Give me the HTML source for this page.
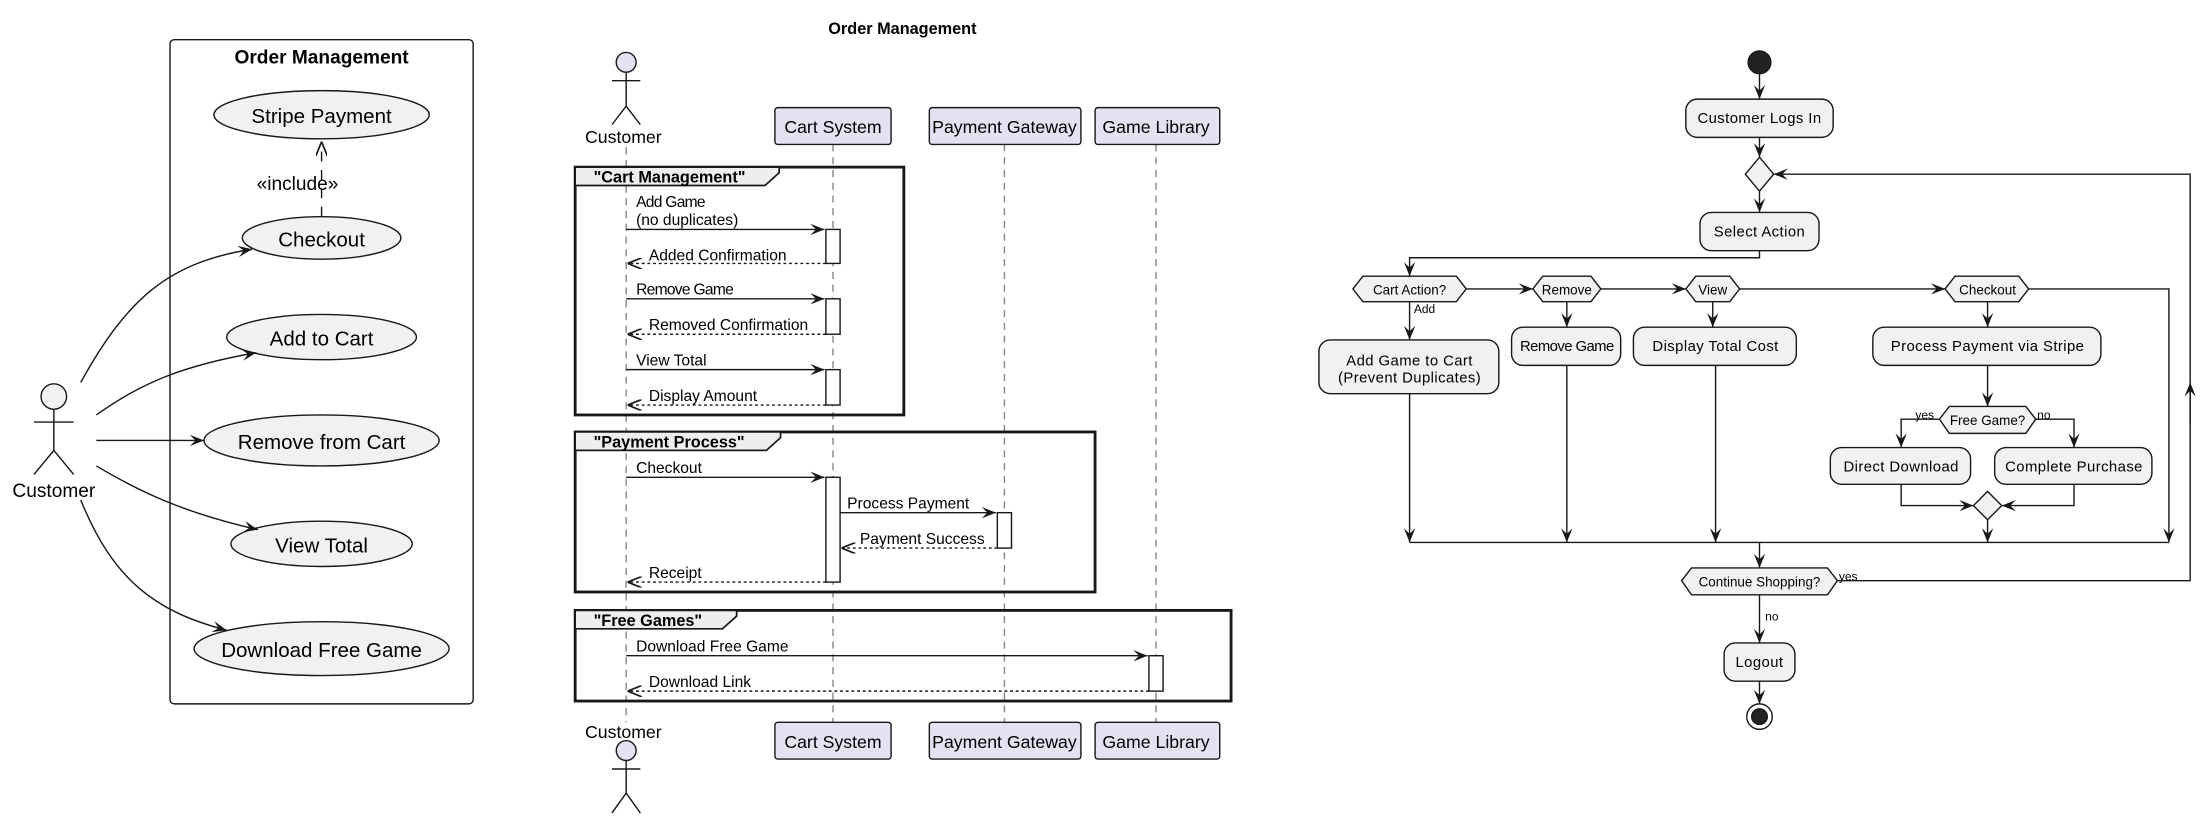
<!DOCTYPE html>
<html><head><meta charset="utf-8"><style>
html,body{margin:0;padding:0;background:#fff;}
svg{display:block;}
text{font-family:"Liberation Sans",sans-serif;fill:#000;}
</style></head><body>
<svg width="2210" height="820" viewBox="0 0 1560 579" preserveAspectRatio="none" xmlns="http://www.w3.org/2000/svg">
<defs>
<marker id="a" viewBox="0 0 10 8" refX="10" refY="4" markerWidth="10" markerHeight="8" markerUnits="userSpaceOnUse" orient="auto"><path d="M0,0 L10,4 L0,8 L4,4 z" fill="#181818"/></marker>
<marker id="o" viewBox="0 0 10 8" refX="10" refY="4" markerWidth="10" markerHeight="8" markerUnits="userSpaceOnUse" orient="auto"><path d="M0,0 L10,4 L0,8" fill="none" stroke="#181818" stroke-width="1.2"/></marker>
</defs>
<g stroke="#181818" stroke-width="1" fill="none">
<!-- USE CASE -->
<rect x="120" y="28" width="214" height="469" rx="3"/>
<g fill="#f1f1f1">
<ellipse cx="227" cy="81" rx="76" ry="17"/>
<ellipse cx="227" cy="168" rx="56" ry="15"/>
<ellipse cx="227" cy="238" rx="67" ry="16"/>
<ellipse cx="227" cy="311" rx="83" ry="18"/>
<ellipse cx="227" cy="384" rx="64" ry="16"/>
<ellipse cx="227" cy="458" rx="90" ry="19"/>
<circle cx="38" cy="280" r="9"/>
</g>
<line x1="227" y1="153" x2="227" y2="100" stroke-dasharray="7,6" marker-end="url(#o)"/>
<path d="M38 289 V318 M24 298 H52 M24 335 L38 318 L52 335"/>
<path d="M57 270 C90 210,120 185,178 176" marker-end="url(#a)"/>
<path d="M68 293 C100 270,130 258,181 249" marker-end="url(#a)"/>
<path d="M68 311 H144" marker-end="url(#a)"/>
<path d="M68 329 C100 348,130 362,182 374" marker-end="url(#a)"/>
<path d="M57 353 C80 410,110 432,160 445" marker-end="url(#a)"/>
</g>
<g font-size="14.5" text-anchor="middle">
<text x="227" y="45" font-weight="bold" font-size="13.5">Order Management</text>
<text x="227" y="87">Stripe Payment</text>
<text x="227" y="174">Checkout</text>
<text x="227" y="244">Add to Cart</text>
<text x="227" y="317">Remove from Cart</text>
<text x="227" y="390">View Total</text>
<text x="227" y="464">Download Free Game</text>
<text x="210" y="134" font-size="13.5">«include»</text>
<text x="38" y="351" font-size="13.5">Customer</text>
</g>

<!-- SEQUENCE -->
<text x="637" y="24" font-size="11.5" font-weight="bold" text-anchor="middle">Order Management</text>
<g stroke="#181818" stroke-width="1" fill="none">
<g stroke="#888" stroke-dasharray="5,4"><line x1="442" y1="104" x2="442" y2="510"/><line x1="588" y1="102" x2="588" y2="510"/><line x1="709" y1="102" x2="709" y2="510"/><line x1="816" y1="102" x2="816" y2="510"/></g>
<circle cx="442" cy="44" r="7" fill="#e2e2f0"/>
<path d="M442 51 V75 M432 57 H452 M432 88 L442 75 L452 88"/>
<circle cx="442" cy="530" r="7" fill="#e2e2f0"/>
<path d="M442 537 V560 M432 543 H452 M432 574 L442 560 L452 574"/>
<g fill="#e2e2f0">
<rect x="547" y="76" width="82" height="26" rx="2"/><rect x="656" y="76" width="107" height="26" rx="2"/><rect x="773" y="76" width="88" height="26" rx="2"/>
<rect x="547" y="510" width="82" height="26" rx="2"/><rect x="656" y="510" width="107" height="26" rx="2"/><rect x="773" y="510" width="88" height="26" rx="2"/>
</g>
<g stroke-width="2">
<rect x="406" y="118" width="232" height="175"/><rect x="406" y="305" width="367" height="113"/><rect x="406" y="431" width="463" height="64"/>
</g>
<g fill="#eee" stroke-width="1.2">
<path d="M406 118 H550 V122 L540 131 H406 Z"/>
<path d="M406 305 H551 V309 L541 318 H406 Z"/>
<path d="M406 431 H520 V435 L510 444 H406 Z"/>
</g>
<g fill="#fff">
<rect x="583" y="162" width="10" height="24"/><rect x="583" y="211" width="10" height="25"/><rect x="583" y="261" width="10" height="25"/>
<rect x="583" y="337" width="10" height="74"/><rect x="704" y="362" width="10" height="25"/><rect x="811" y="463" width="10" height="25"/>
</g>
<g marker-end="url(#a)">
<line x1="442" y1="162" x2="582" y2="162"/><line x1="442" y1="211" x2="582" y2="211"/><line x1="442" y1="261" x2="582" y2="261"/>
<line x1="442" y1="337" x2="582" y2="337"/><line x1="593" y1="362" x2="703" y2="362"/><line x1="442" y1="463" x2="810" y2="463"/>
</g>
<g stroke-dasharray="2,2" marker-end="url(#o)">
<line x1="583" y1="186" x2="443" y2="186"/><line x1="583" y1="236" x2="443" y2="236"/><line x1="583" y1="286" x2="443" y2="286"/>
<line x1="704" y1="387" x2="594" y2="387"/><line x1="583" y1="411" x2="443" y2="411"/><line x1="811" y1="488" x2="443" y2="488"/>
</g>
</g>
<g font-size="12.5" text-anchor="middle">
<text x="440" y="101">Customer</text><text x="440" y="521">Customer</text>
<text x="588" y="94">Cart System</text><text x="709" y="94">Payment Gateway</text><text x="816" y="94">Game Library</text>
<text x="588" y="528">Cart System</text><text x="709" y="528">Payment Gateway</text><text x="816" y="528">Game Library</text>
</g>
<g font-size="11.5" font-weight="bold"><text x="419" y="129">"Cart Management"</text><text x="419" y="316">"Payment Process"</text><text x="419" y="442">"Free Games"</text></g>
<g font-size="11">
<text x="449" y="146" letter-spacing="-0.5">Add Game</text><text x="449" y="159">(no duplicates)</text>
<text x="458" y="184">Added Confirmation</text>
<text x="449" y="208" letter-spacing="-0.5">Remove Game</text>
<text x="458" y="233">Removed Confirmation</text>
<text x="449" y="258">View Total</text><text x="458" y="283">Display Amount</text>
<text x="449" y="334">Checkout</text><text x="598" y="359">Process Payment</text><text x="607" y="384">Payment Success</text>
<text x="458" y="408">Receipt</text>
<text x="449" y="460">Download Free Game</text><text x="458" y="485">Download Link</text>
</g>

<!-- ACTIVITY -->
<g stroke="#181818" stroke-width="1" fill="none">
<circle cx="1242" cy="44" r="8" fill="#222"/>
<circle cx="1242" cy="506" r="9"/><circle cx="1242" cy="506" r="5.5" fill="#222"/>
<g fill="#f1f1f1">
<rect x="1190" y="70" width="104" height="27" rx="8"/>
<rect x="1200" y="150" width="84" height="27" rx="8"/>
<rect x="931" y="240" width="127" height="38" rx="8"/>
<rect x="1067" y="231" width="77" height="27" rx="8"/>
<rect x="1153" y="231" width="115" height="27" rx="8"/>
<rect x="1322" y="231" width="161" height="27" rx="8"/>
<rect x="1292" y="316" width="99" height="26" rx="8"/>
<rect x="1408" y="316" width="111" height="26" rx="8"/>
<rect x="1217" y="454" width="50" height="27" rx="8"/>
<path d="M1232 123 L1242 111 L1252 123 L1242 135 Z"/>
<path d="M1393 357 L1403 347 L1413 357 L1403 367 Z"/>
<path d="M955 204 L962 195 H1028 L1035 204 L1028 213 H962 Z"/>
<path d="M1082 204 L1089 195 H1123 L1130 204 L1123 213 H1089 Z"/>
<path d="M1190 204 L1197 195 H1221 L1228 204 L1221 213 H1197 Z"/>
<path d="M1373 204 L1380 195 H1425 L1432 204 L1425 213 H1380 Z"/>
<path d="M1369 296 L1376 287 H1430 L1437 296 L1430 306 H1376 Z"/>
<path d="M1187 410 L1194 401 H1290 L1297 410 L1290 420 H1194 Z"/>
</g>
<g marker-end="url(#a)">
<path d="M1242 52 V70"/><path d="M1242 97 V111"/><path d="M1242 135 V150"/>
<path d="M1242 177 V182 H995 V195"/>
<path d="M1035 204 H1082"/><path d="M1130 204 H1190"/><path d="M1228 204 H1373"/>
<path d="M995 213 V240"/><path d="M1106 213 V231"/><path d="M1209 213 V231"/><path d="M1403 213 V231"/>
<path d="M1403 258 V287"/>
<path d="M1369 296 H1342 V316"/><path d="M1437 296 H1464 V316"/>
<path d="M1342 342 V357 H1393"/><path d="M1464 342 V357 H1413"/>
<path d="M995 278 V383"/><path d="M1106 258 V383"/><path d="M1211 258 V383"/><path d="M1403 367 V383"/>
<path d="M1432 204 H1531 V383"/>
<path d="M1242 383 V401"/>
<path d="M1242 420 V454"/><path d="M1242 481 V497"/>
<path d="M1297 410 H1546 V123 H1252"/>
<path d="M1546 300 V270"/>
</g>
<path d="M995 383 H1531"/>
</g>
<g font-size="10.5" text-anchor="middle" letter-spacing="0.3">
<text x="1242" y="87">Customer Logs In</text>
<text x="1242" y="167">Select Action</text>
<text x="995" y="258">Add Game to Cart</text><text x="995" y="270">(Prevent Duplicates)</text>
<text x="1106" y="248" letter-spacing="-0.4">Remove Game</text>
<text x="1211" y="248">Display Total Cost</text>
<text x="1403" y="248">Process Payment via Stripe</text>
<text x="1342" y="333">Direct Download</text>
<text x="1464" y="333">Complete Purchase</text>
<text x="1242" y="471">Logout</text>
</g>
<g font-size="9.5" text-anchor="middle">
<text x="995" y="208">Cart Action?</text>
<text x="1106" y="208">Remove</text>
<text x="1209" y="208">View</text>
<text x="1403" y="208">Checkout</text>
<text x="1403" y="300">Free Game?</text>
<text x="1242" y="414">Continue Shopping?</text>
</g>
<g font-size="8.5">
<text x="998" y="221">Add</text><text x="1352" y="296">yes</text><text x="1438" y="296">no</text>
<text x="1298" y="410">yes</text><text x="1246" y="438">no</text>
</g>
</svg>
</body></html>
